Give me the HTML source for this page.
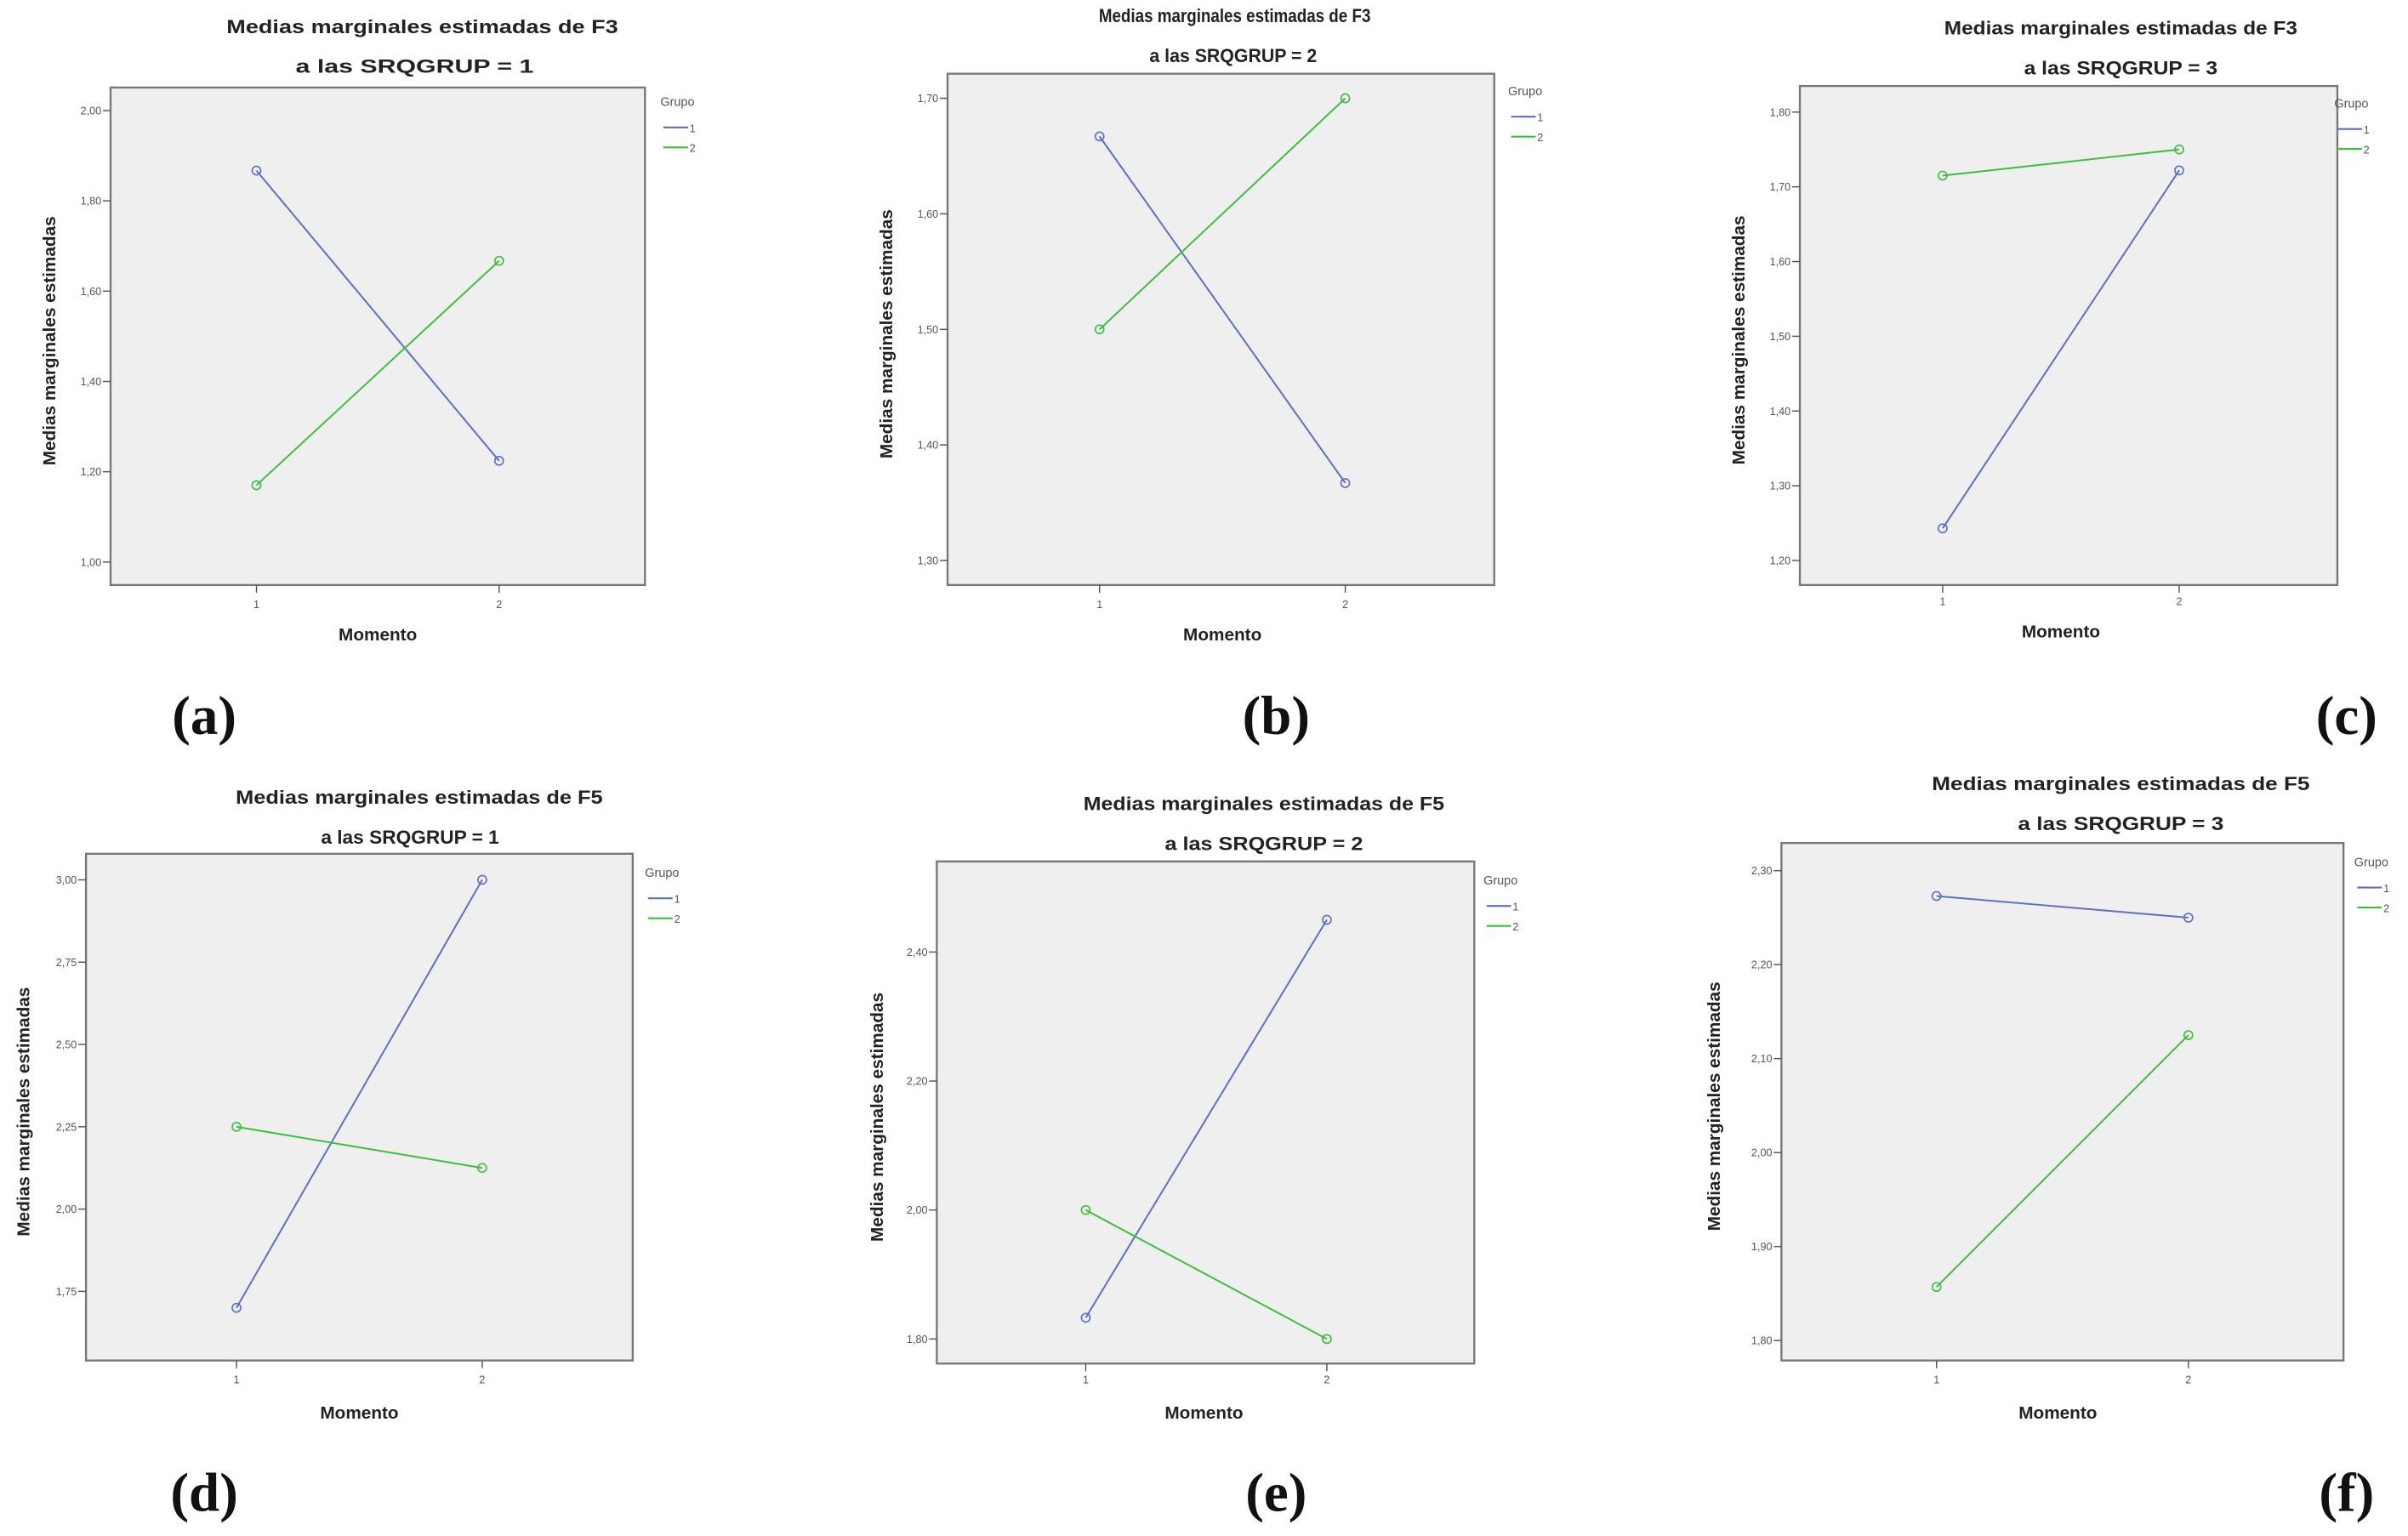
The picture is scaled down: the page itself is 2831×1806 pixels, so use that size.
<!DOCTYPE html>
<html><head><meta charset="utf-8"><style>
html,body{margin:0;padding:0;background:#fff;}
svg{display:block;}
text{font-family:"Liberation Sans",sans-serif;}
text.plabel{font-family:"Liberation Serif",serif;}
</style></head><body>
<svg id="fig" width="2831" height="1806" viewBox="0 0 1568 1000.3" preserveAspectRatio="none" xmlns="http://www.w3.org/2000/svg"></svg>
<script>
// ---- data ----
const momentCategories = ["1", "2"];
const groupNames = ["1", "2"];
const titlesF = ["F3", "F3", "F3", "F5", "F5", "F5"];
const srqGroups = ["1", "2", "3", "1", "2", "3"];
const panelLetters = ["(a)", "(b)", "(c)", "(d)", "(e)", "(f)"];
const tickA = [1.0, 1.2, 1.4, 1.6, 1.8, 2.0];
const tickB = [1.3, 1.4, 1.5, 1.6, 1.7];
const tickC = [1.2, 1.3, 1.4, 1.5, 1.6, 1.7, 1.8];
const tickD = [1.75, 2.0, 2.25, 2.5, 2.75, 3.0];
const tickE = [1.8, 2.0, 2.2, 2.4];
const tickF = [1.8, 1.9, 2.0, 2.1, 2.2, 2.3];
const grp1A = [1.867, 1.224];
const grp2A = [1.170, 1.667];
const grp1B = [1.667, 1.367];
const grp2B = [1.500, 1.700];
const grp1C = [1.243, 1.722];
const grp2C = [1.715, 1.750];
const grp1D = [1.70, 3.00];
const grp2D = [2.25, 2.125];
const grp1E = [1.833, 2.45];
const grp2E = [2.00, 1.80];
const grp1F = [2.273, 2.25];
const grp2F = [1.857, 2.125];

// ---- layout (preview coordinate system) ----
const layouts = [
 {bx:72,by:57,bw:348,bh:324,x1:167,x2:325,yT:72,yB:366,tc:275,sc:270,tw:255,sw:155,t1:17,t2:43,lx:430,ly:66,yl:33,xl:393,mo:413,mc:246,px:133,py:466,dec:2},
 {bx:617,by:48,bw:356,bh:333,x1:716,x2:876,yT:64,yB:365,tc:804,sc:803,tw:177,sw:109,t1:10,t2:36,lx:982,ly:59,yl:578,xl:393,mo:413,mc:796,px:831,py:466,dec:2},
 {bx:1172,by:56,bw:350,bh:325,x1:1265,x2:1419,yT:73,yB:365,tc:1381,sc:1381,tw:230,sw:126,t1:18,t2:44,lx:1520,ly:67,yl:1133,xl:391,mo:411,mc:1342,px:1528,py:466,dec:2},
 {bx:56,by:556,bw:356,bh:330,x1:154,x2:314,yT:573,yB:841,tc:273,sc:267,tw:239,sw:116,t1:519,t2:545,lx:420,ly:568,yl:16,xl:898,mo:920,mc:234,px:133,py:972,dec:2},
 {bx:610,by:561,bw:350,bh:327,x1:707,x2:864,yT:620,yB:872,tc:823,sc:823,tw:235,sw:129,t1:523,t2:549,lx:966,ly:573,yl:572,xl:898,mo:920,mc:784,px:831,py:972,dec:2},
 {bx:1160,by:549,bw:366,bh:337,x1:1261,x2:1425,yT:567,yB:873,tc:1381,sc:1381,tw:246,sw:134,t1:510,t2:536,lx:1533,ly:561,yl:1117,xl:898,mo:920,mc:1340,px:1528,py:972,dec:2}
];
const ticks = [tickA, tickB, tickC, tickD, tickE, tickF];
const series = [[grp1A,grp2A],[grp1B,grp2B],[grp1C,grp2C],[grp1D,grp2D],[grp1E,grp2E],[grp1F,grp2F]];
const colors = ["#5b6fc8", "#3cbf3c"];
const NS = "http://www.w3.org/2000/svg";
const svg = document.getElementById("fig");
function mk(tag, attrs, parent, txt){
  const e = document.createElementNS(NS, tag);
  for (const k in attrs) e.setAttribute(k, attrs[k]);
  if (txt !== undefined) e.textContent = txt;
  parent.appendChild(e);
  return e;
}
layouts.forEach((L, i) => {
  const tk = ticks[i];
  const vmin = tk[0], vmax = tk[tk.length-1];
  const yScale = v => L.yB + (v - vmin) / (vmax - vmin) * (L.yT - L.yB);
  const xScale = idx => idx === 0 ? L.x1 : L.x2;
  const g = mk("g", {}, svg);
  
  
  const t1 = mk("text", {x:L.tc, y:L.t1+4.5, "text-anchor":"middle", "font-size":"12.5", "font-weight":"bold", fill:"#222", textLength:L.tw, lengthAdjust:"spacingAndGlyphs"}, g, "Medias marginales estimadas de " + titlesF[i]);
  
  
  const t2 = mk("text", {x:L.sc, y:L.t2+4.5, "text-anchor":"middle", "font-size":"12.5", "font-weight":"bold", fill:"#222", textLength:L.sw, lengthAdjust:"spacingAndGlyphs"}, g, "a las SRQGRUP = " + srqGroups[i]);
  
  
  const box = mk("rect", {x:L.bx, y:L.by, width:L.bw, height:L.bh, fill:"#efefef", stroke:"#777", "stroke-width":"1.3"}, g);
  
  
  tk.forEach(v => {
    const y = yScale(v);
    const tl = mk("line", {x1:L.bx-5, x2:L.bx, y1:y, y2:y, stroke:"#555", "stroke-width":"0.8"}, g);
    
    
    const tt = mk("text", {x:L.bx-6, y:y+2.5, "text-anchor":"end", "font-size":"7", fill:"#555"}, g, v.toFixed(L.dec).replace(".", ","));
    
    
  });
  momentCategories.forEach((c, idx) => {
    const x = xScale(idx);
    const tl = mk("line", {x1:x, x2:x, y1:L.by+L.bh, y2:L.by+L.bh+5, stroke:"#555", "stroke-width":"0.8"}, g);
    
    
    const tt = mk("text", {x:x, y:L.xl+3, "text-anchor":"middle", "font-size":"7", fill:"#555"}, g, c);
    
    
  });
  const xt = mk("text", {x:L.mc, y:L.mo+4, "text-anchor":"middle", "font-size":"11.5", "font-weight":"bold", fill:"#222"}, g, "Momento");
  
  
  const ym = (L.by + L.by + L.bh)/2;
  const yt = mk("text", {x:L.yl, y:ym, "text-anchor":"middle", "font-size":"11.5", "font-weight":"bold", fill:"#222", transform:"rotate(-90 "+(L.yl+3)+" "+ym+")"}, g, "Medias marginales estimadas");
  
  
  series[i].forEach((vals, s) => {
    const pts = vals.map((v, idx) => xScale(idx) + "," + yScale(v)).join(" ");
    const pl = mk("polyline", {points:pts, fill:"none", stroke:colors[s], "stroke-width":"1.1"}, g);
    
    
    vals.forEach((v, idx) => {
      const c = mk("circle", {cx:xScale(idx), cy:yScale(v), r:"2.8", fill:"none", stroke:colors[s], "stroke-width":"0.9"}, g);
      
      
    });
  });
  const lg = mk("text", {x:L.lx, y:L.ly+3, "font-size":"8", fill:"#555"}, g, "Grupo");
  
  
  groupNames.forEach((n, s) => {
    const y = L.ly + 17 + s*13;
    const ll = mk("line", {x1:L.lx+2, x2:L.lx+18, y1:y, y2:y, stroke:colors[s], "stroke-width":"1.2"}, g);
    
    
    const lt = mk("text", {x:L.lx+19, y:y+3, "font-size":"7", fill:"#555"}, g, n);
    
    
  });
  const pl = mk("text", {x:L.px, y:L.py+12, "text-anchor":"middle", "font-size":"36", "font-weight":"bold", "class":"plabel", fill:"#111"}, g, panelLetters[i]);
  
  
});
</script>
</body></html>
